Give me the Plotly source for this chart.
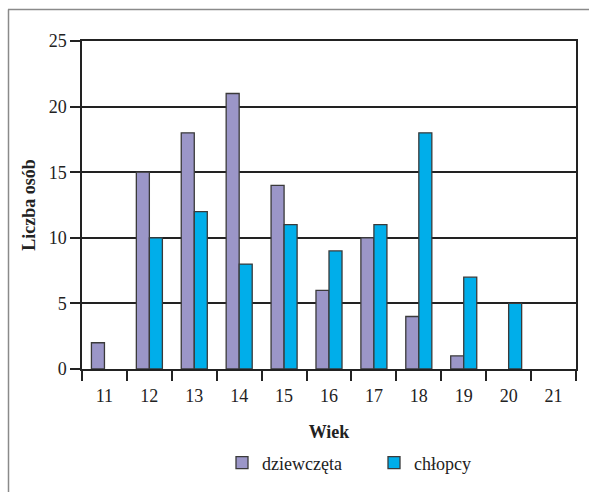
import plotly.graph_objects as go

ages = ["11", "12", "13", "14", "15", "16", "17", "18", "19", "20", "21"]
girls = [2, 15, 18, 21, 14, 6, 10, 4, 1, 0, 0]
boys = [0, 10, 12, 8, 11, 9, 11, 18, 7, 5, 0]

W, H = 589, 492
L, R, T, B = 82, 13, 41, 122
pw, ph = W - L - R, H - T - B

def px(x):
    return (x - L) / pw

def py(y):
    return (H - B - y) / ph

def nz(vals):
    return [v if v else None for v in vals]

font = "Liberation Serif"

fig = go.Figure()
fig.add_bar(x=ages, y=nz(girls), name="dziewczęta", marker=dict(color="#9B96C8", line=dict(color="#3a3a3a", width=1.3)))
fig.add_bar(x=ages, y=nz(boys), name="chłopcy", marker=dict(color="#00AEEA", line=dict(color="#3a3a3a", width=1.3)))

fig.update_layout(
    width=W, height=H,
    margin=dict(l=L, r=R, t=T, b=B),
    paper_bgcolor="white", plot_bgcolor="white",
    barmode="group", bargap=0.42, bargroupgap=0,
    font=dict(family=font, size=18, color="#222"),
    showlegend=True,
    legend=dict(orientation="h", x=px(222), xanchor="left", y=py(463), yanchor="middle",
                font=dict(size=18), itemwidth=30, entrywidth=107),
    xaxis=dict(type="category", tickson="boundaries", ticks="outside", ticklen=10, tickwidth=1.5,
               tickcolor="#222", showline=True, linecolor="#222", linewidth=1.5, mirror=True,
               ticklabelstandoff=10,
               showgrid=False, title=dict(text="<b>Wiek</b>", standoff=20, font=dict(size=18))),
    yaxis=dict(range=[0, 25], dtick=5, ticks="outside", ticklen=10, tickwidth=1.5, tickcolor="#222",
               showline=True, linecolor="#222", linewidth=1.5, mirror=True,
               showgrid=True, gridcolor="#222", gridwidth=1.5, zeroline=False,
               title=dict(text="<b>Liczba osób</b>", standoff=8, font=dict(size=18))),
    shapes=[
        dict(type="line", xref="paper", yref="paper", x0=px(8), x1=px(600), y0=py(9.5), y1=py(9.5),
             line=dict(color="#8a8a8a", width=1.5)),
        dict(type="line", xref="paper", yref="paper", x0=px(8.5), x1=px(8.5), y0=py(9.5), y1=py(500),
             line=dict(color="#8a8a8a", width=1.5)),
    ],
)

fig.write_html("out.html")
